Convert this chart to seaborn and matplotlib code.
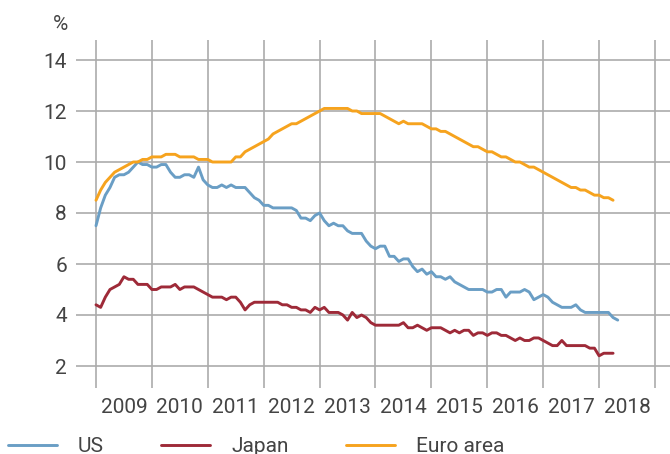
import numpy as np
import pandas as pd
import matplotlib.pyplot as plt
from matplotlib.lines import Line2D
import seaborn as sns

# unemployment rates, monthly from Jan 2009
us = [7.5, 8.2, 8.7, 9.0, 9.4, 9.5, 9.5, 9.6, 9.8, 10.0, 9.9, 9.9,
      9.8, 9.8, 9.9, 9.9, 9.6, 9.4, 9.4, 9.5, 9.5, 9.4, 9.8, 9.3,
      9.1, 9.0, 9.0, 9.1, 9.0, 9.1, 9.0, 9.0, 9.0, 8.8, 8.6, 8.5,
      8.3, 8.3, 8.2, 8.2, 8.2, 8.2, 8.2, 8.1, 7.8, 7.8, 7.7, 7.9,
      8.0, 7.7, 7.5, 7.6, 7.5, 7.5, 7.3, 7.2, 7.2, 7.2, 6.9, 6.7,
      6.6, 6.7, 6.7, 6.3, 6.3, 6.1, 6.2, 6.2, 5.9, 5.7, 5.8, 5.6,
      5.7, 5.5, 5.5, 5.4, 5.5, 5.3, 5.2, 5.1, 5.0, 5.0, 5.0, 5.0,
      4.9, 4.9, 5.0, 5.0, 4.7, 4.9, 4.9, 4.9, 5.0, 4.9, 4.6, 4.7,
      4.8, 4.7, 4.5, 4.4, 4.3, 4.3, 4.3, 4.4, 4.2, 4.1, 4.1, 4.1,
      4.1, 4.1, 4.1, 3.9, 3.8]

japan = [4.4, 4.3, 4.7, 5.0, 5.1, 5.2, 5.5, 5.4, 5.4, 5.2, 5.2, 5.2,
         5.0, 5.0, 5.1, 5.1, 5.1, 5.2, 5.0, 5.1, 5.1, 5.1, 5.0, 4.9,
         4.8, 4.7, 4.7, 4.7, 4.6, 4.7, 4.7, 4.5, 4.2, 4.4, 4.5, 4.5,
         4.5, 4.5, 4.5, 4.5, 4.4, 4.4, 4.3, 4.3, 4.2, 4.2, 4.1, 4.3,
         4.2, 4.3, 4.1, 4.1, 4.1, 4.0, 3.8, 4.1, 3.9, 4.0, 3.9, 3.7,
         3.6, 3.6, 3.6, 3.6, 3.6, 3.6, 3.7, 3.5, 3.5, 3.6, 3.5, 3.4,
         3.5, 3.5, 3.5, 3.4, 3.3, 3.4, 3.3, 3.4, 3.4, 3.2, 3.3, 3.3,
         3.2, 3.3, 3.3, 3.2, 3.2, 3.1, 3.0, 3.1, 3.0, 3.0, 3.1, 3.1,
         3.0, 2.9, 2.8, 2.8, 3.0, 2.8, 2.8, 2.8, 2.8, 2.8, 2.7, 2.7,
         2.4, 2.5, 2.5, 2.5]

euro = [8.5, 8.9, 9.2, 9.4, 9.6, 9.7, 9.8, 9.9, 10.0, 10.0, 10.1, 10.1,
        10.2, 10.2, 10.2, 10.3, 10.3, 10.3, 10.2, 10.2, 10.2, 10.2, 10.1, 10.1,
        10.1, 10.0, 10.0, 10.0, 10.0, 10.0, 10.2, 10.2, 10.4, 10.5, 10.6, 10.7,
        10.8, 10.9, 11.1, 11.2, 11.3, 11.4, 11.5, 11.5, 11.6, 11.7, 11.8, 11.9,
        12.0, 12.1, 12.1, 12.1, 12.1, 12.1, 12.1, 12.0, 12.0, 11.9, 11.9, 11.9,
        11.9, 11.9, 11.8, 11.7, 11.6, 11.5, 11.6, 11.5, 11.5, 11.5, 11.5, 11.4,
        11.3, 11.3, 11.2, 11.2, 11.1, 11.0, 10.9, 10.8, 10.7, 10.6, 10.6, 10.5,
        10.4, 10.4, 10.3, 10.2, 10.2, 10.1, 10.0, 10.0, 9.9, 9.8, 9.8, 9.7,
        9.6, 9.5, 9.4, 9.3, 9.2, 9.1, 9.0, 9.0, 8.9, 8.9, 8.8, 8.7,
        8.7, 8.6, 8.6, 8.5]

series_names = ["US", "Japan", "Euro area"]
colors = ["#6a9ec5", "#9e2a38", "#f6a31e"]
years = list(range(2009, 2019))

frames = []
for name, vals in zip(series_names, [us, japan, euro]):
    frames.append(pd.DataFrame({
        "year": 2009 + np.arange(len(vals)) / 12,
        "rate": vals,
        "series": name,
    }))
df = pd.concat(frames, ignore_index=True)

sns.set_style("white")
plt.rcParams['font.family'] = ['Roboto', 'DejaVu Sans']
text_color = "#444444"

fig = plt.figure(figsize=(6.7, 4.54), dpi=100)
ax = fig.add_axes([76 / 670, 1 - 388 / 454, 594 / 670, 348 / 454])

sns.lineplot(data=df, x="year", y="rate", hue="series", hue_order=series_names,
             palette=colors, linewidth=2.1, legend=False, ax=ax)

ax.set_xlim(2009 - 20 / 55.9, 2019 + 15 / 55.9)
ax.set_ylim(2 - 22 / 25.5, 14 + 20 / 25.5)
ax.set_yticks(range(2, 15, 2))
ax.set_xticks(range(2009, 2020))
ax.set_xticklabels([])
ax.set_xticks([y + 0.5 for y in years], minor=True)
ax.set_xticklabels([str(y) for y in years], minor=True)
ax.tick_params(axis="x", which="both", length=0, pad=7, labelsize=15, labelcolor=text_color)
ax.tick_params(axis="y", length=0, pad=6.5, labelsize=15, labelcolor=text_color)
ax.grid(True, which="major", color="#ababab", linewidth=1.2)
ax.set_axisbelow(True)
for s in ax.spines.values():
    s.set_visible(False)
ax.set_xlabel("")
ax.set_ylabel("")

fig.text(68 / 670, 1 - 24 / 454, "%", ha="right", va="center", fontsize=15, color=text_color)

handles = [Line2D([], [], color=c, linewidth=2.1) for c in colors]
fig.legend(handles, series_names, loc="center left", bbox_to_anchor=(8 / 670, 1 - 447 / 454),
           ncol=3, frameon=False, handlelength=2.36, handletextpad=1.0, columnspacing=2.74,
           borderpad=0, borderaxespad=0, fontsize=15, labelcolor=text_color)

fig.savefig("out.png", dpi=100)
